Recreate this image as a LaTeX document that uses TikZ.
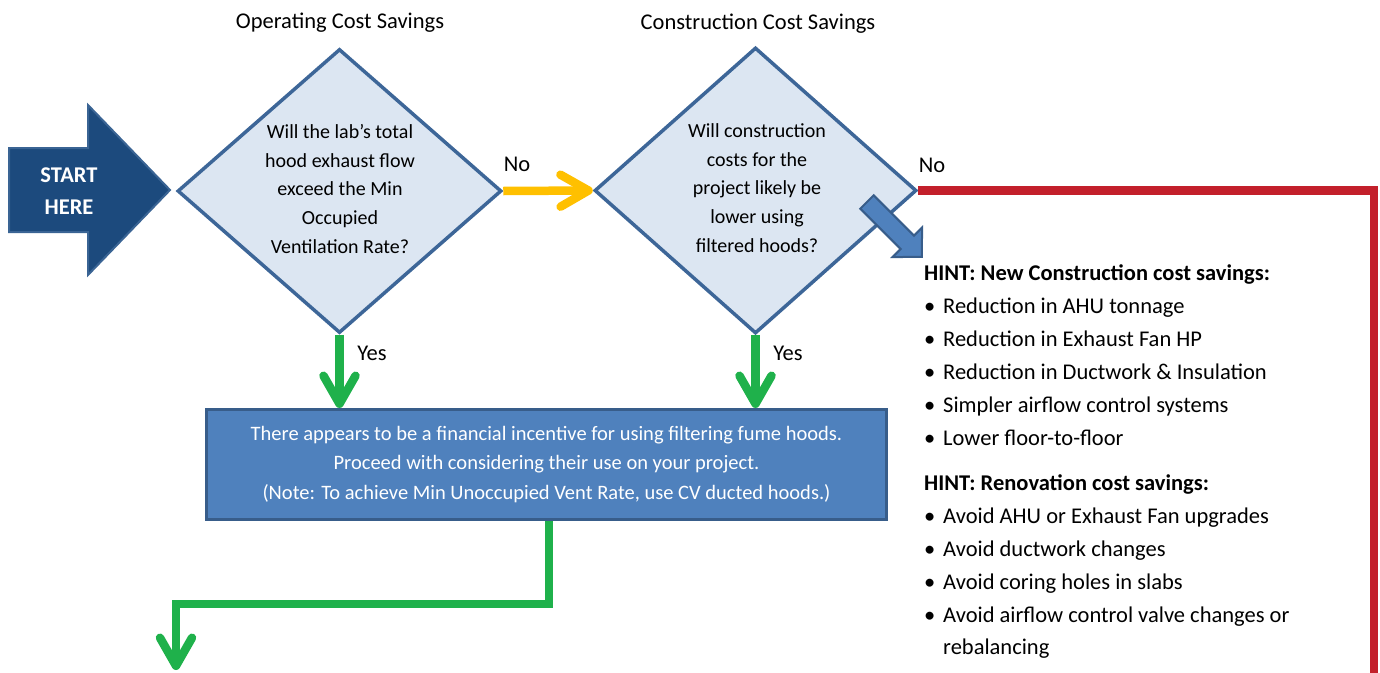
\documentclass[tikz,border=0pt]{standalone}
\usepackage{fontspec}
\setmainfont{Carlito}
\usetikzlibrary{shapes.geometric,arrows.meta}
\definecolor{startblue}{HTML}{1C4A7D}
\definecolor{startedge}{HTML}{3A6494}
\definecolor{diafill}{HTML}{DCE6F2}
\definecolor{diaedge}{HTML}{3D6698}
\definecolor{boxfill}{HTML}{4F81BD}
\definecolor{boxedge}{HTML}{385D8A}
\definecolor{ayellow}{HTML}{FFC000}
\definecolor{agreen}{HTML}{1FB14B}
\definecolor{ared}{HTML}{C3202B}
\tikzset{
  dia/.style={diamond, draw=diaedge, fill=diafill, line width=3.5pt, inner sep=0pt},
  dtext/.style={align=center, font=\fontsize{20}{28.6}\selectfont, inner sep=0pt},
  ttl/.style={font=\fontsize{22.5}{27}\selectfont, inner sep=0pt},
  lbl/.style={font=\fontsize{22.5}{27}\selectfont, inner sep=0pt},
  hint/.style={font=\fontsize{22.5}{27}\selectfont, inner sep=0pt, anchor=base west},
  conn/.style={line width=8.5pt},
  barb/.style={-{Straight Barb[round,length=28pt,width=32pt]}},
  bluebox/.style={draw=boxedge, fill=boxfill, line width=3pt, text=white, align=center,
     font=\fontsize{20.5}{29.5}\selectfont, inner sep=0pt},
  blockarrow/.style={draw=boxedge, fill=boxfill, line width=2pt, line join=miter},
  startarrow/.style={draw=startedge, fill=startblue, line width=2pt, line join=miter},
}
\newcommand{\bul}{\makebox[19pt][l]{\textbullet}}
\begin{document}
\begin{tikzpicture}[x=1pt,y=-1pt]
\useasboundingbox (0,0) rectangle (1380,672);

% start arrow
\draw[startarrow] (9,148) -- (88,148) -- (88,105) -- (170,190) -- (88,275) -- (88,232) -- (9,232) -- cycle;
\node[align=center, text=white, font=\bfseries\fontsize{22.5}{32}\selectfont, inner sep=0pt] (start) at (69,191) {START\\HERE};

% diamonds
\node[dia, minimum width=324pt, minimum height=284pt] (d1) at (339.5,191) {};
\node[dtext] (t1) at (340,189) {Will the lab’s total\\hood exhaust flow\\exceed the Min\\Occupied\\Ventilation Rate?};
\node[dia, minimum width=322pt, minimum height=286pt] (d2) at (755.5,190.5) {};
\node[dtext] (t2) at (757,188) {Will construction\\costs for the\\project likely be\\lower using\\filtered hoods?};

% titles
\node[ttl] (ti1) at (340,23) {Operating Cost Savings};
\node[ttl] (ti2) at (758,24) {Construction Cost Savings};

% result box
\node[bluebox, minimum width=680pt, minimum height=110pt] (box) at (546.5,464.5)
  {There appears to be a financial incentive for using filtering fume hoods.\\
   Proceed with considering their use on your project.\\
   (Note: To achieve Min Unoccupied Vent Rate, use CV ducted hoods.)};

% connectors
\draw[conn, ayellow, barb] (d1.east) -- (d2.west);
\node[lbl] (no1) at (517,164) {No};

\coordinate (r1) at (1374,188);
\coordinate (r2) at (1374,690);
\draw[conn, ared, line join=miter] (d2.east) -- (d2.east -| r1) -- (r2);
\node[lbl] (no2) at (932,165) {No};

\draw[conn, agreen, barb] (d1.south) -- (d1.south |- box.north);
\node[lbl] (yes1) at (372,353) {Yes};
\draw[conn, agreen, barb] (d2.south) -- (d2.south |- box.north);
\node[lbl] (yes2) at (788,353) {Yes};

\coordinate (g1) at (549,604);
\coordinate (g2) at (176,604);
\coordinate (g3) at (176,670);
\draw[conn, agreen, barb, line join=miter] (box.south -| g1) -- (g1) -- (g2) -- (g3);

% hint block arrow
\draw[blockarrow] (873.7,195.3) -- (914,235.6) -- (922.1,227.5) -- (921.8,256.8) -- (892.5,257.1) -- (900.6,249) -- (860.3,208.7) -- cycle;

% hints
\node[hint] (h1) at (924,280) {\textbf{HINT: New Construction cost savings:}};
\node[hint] (h1a) at (924,313) {\bul Reduction in AHU tonnage};
\node[hint] (h1b) at (924,346) {\bul Reduction in Exhaust Fan HP};
\node[hint] (h1c) at (924,379) {\bul Reduction in Ductwork \& Insulation};
\node[hint] (h1d) at (924,412) {\bul Simpler airflow control systems};
\node[hint] (h1e) at (924,445) {\bul Lower floor-to-floor};
\node[hint] (h2) at (924,490) {\textbf{HINT: Renovation cost savings:}};
\node[hint] (h2a) at (924,523) {\bul Avoid AHU or Exhaust Fan upgrades};
\node[hint] (h2b) at (924,556) {\bul Avoid ductwork changes};
\node[hint] (h2c) at (924,589) {\bul Avoid coring holes in slabs};
\node[hint] (h2d) at (924,622) {\bul Avoid airflow control valve changes or};
\node[hint] (h2e) at (943,654) {rebalancing};
\end{tikzpicture}
\end{document}
